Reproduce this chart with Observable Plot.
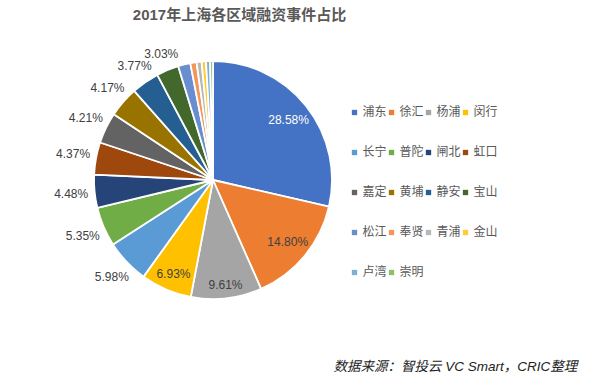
<!DOCTYPE html>
<html><head><meta charset="utf-8">
<script src="https://cdn.jsdelivr.net/npm/d3@7"></script>
<script src="https://cdn.jsdelivr.net/npm/@observablehq/plot@0.6"></script>
<style>body{margin:0;background:#fff}</style>
</head><body><div id="chart"></div>
<script>
const districts = ["浦东","徐汇","杨浦","闵行","长宁","普陀","闸北","虹口","嘉定","黄埔","静安","宝山","松江","奉贤","青浦","金山","卢湾","崇明"];
const shares = [28.58,14.80,9.61,6.93,5.98,5.35,4.48,4.37,4.21,4.17,3.77,3.03,1.66,0.85,0.68,0.59,0.55,0.39];
const colors = ["#4472C4","#ED7D31","#A5A5A5","#FFC000","#5B9BD5","#70AD47","#264478","#9E480E","#636363","#997300","#255E91","#43682B","#698ED0","#F1975A","#B7B7B7","#FFCD33","#7CAFDD","#8CC168"];
const titleText = "2017年上海各区域融资事件占比";
const captionText = "数据来源：智投云 VC Smart，CRIC整理";

const W = 589, H = 382, cx = 213, cy = 180, R = 119;
const FONT = "'Liberation Sans','Noto Sans CJK SC',sans-serif";

const pieArcs = d3.pie().sort(null).value(d => d)(shares);
const rows = districts.map((name, i) => {
  const a = pieArcs[i];
  const mid = (a.startAngle + a.endAngle) / 2;
  return {name, value: shares[i], color: colors[i], arc: a, mid, i};
});

const labeled = rows.filter(d => d.value >= 3);
const labelRows = labeled.map(d => {
  const s = Math.sin(d.mid), c = Math.cos(d.mid);
  const inside = d.value > 6.5;
  const r = inside ? R - 12 - 14 * Math.abs(s) : R + 14 + 10 * Math.abs(s);
  return {text: d.value.toFixed(2) + "%", x: cx + r * s, y: cy - r * c, fill: d.i === 0 ? "#ffffff" : "#404040"};
});

const legendRows = rows.map((d, k) => ({
  name: d.name, color: d.color,
  x: 354 + (k % 4) * 37,
  y: 112 + Math.floor(k / 4) * 40
}));

function slices(index, scales) {
  const sx = scales.x, sy = scales.y;
  const x0 = sx(cx), y0 = sy(cy), rr = sx(cx + R) - x0;
  const arc = d3.arc().innerRadius(0).outerRadius(rr);
  const g = d3.create("svg:g").attr("transform", `translate(${x0},${y0})`);
  g.selectAll("path").data(rows).join("path")
    .attr("d", d => arc(d.arc))
    .attr("fill", d => d.color)
    .attr("stroke", "#ffffff")
    .attr("stroke-width", 1.8)
    .attr("stroke-linejoin", "round");
  return g.node();
}

const chart = Plot.plot({
  width: W, height: H,
  margin: 0,
  x: {domain: [0, W], range: [0, W], axis: null},
  y: {domain: [0, H], range: [0, H], axis: null},
  style: {fontFamily: FONT, background: "#fff", overflow: "visible"},
  marks: [
    slices,
    Plot.text(labelRows, {x: "x", y: "y", text: "text", fill: "fill", fontSize: 12}),
    Plot.dot(legendRows, {x: "x", y: "y", fill: "color", symbol: "square", r: 3, stroke: null}),
    Plot.text(legendRows, {x: d => d.x + 8, y: "y", text: "name", textAnchor: "start", fill: "#595959", fontSize: 12}),
    Plot.text([titleText], {x: 239, y: 15, text: d => d, fontSize: 15, fontWeight: "bold", fill: "#595959"}),
    Plot.text([captionText], {x: 333, y: 366, text: d => d, textAnchor: "start", fontSize: 13.5, fontStyle: "italic", fill: "#222222"})
  ]
});
document.getElementById("chart").appendChild(chart);
</script>
</body></html>
